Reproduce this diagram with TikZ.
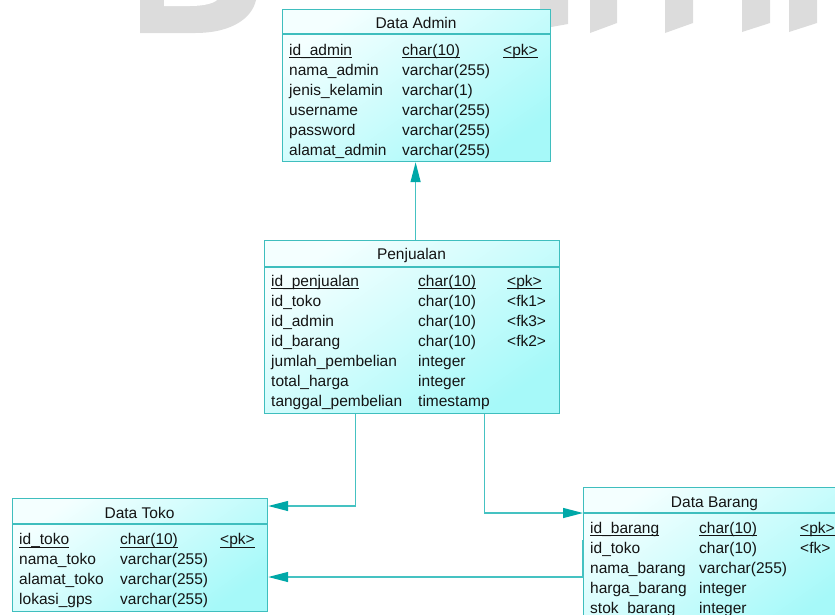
\documentclass[tikz,border=0pt]{standalone}
\usepackage{fontspec}
\setmainfont{Liberation Sans}
\usetikzlibrary{arrows.meta}
\definecolor{boxC}{HTML}{3FBEBE}
\definecolor{lineC}{HTML}{45C2C2}
\definecolor{arrC}{HTML}{00A8A8}
\definecolor{cTop}{HTML}{F4FFFF}
\definecolor{cBot}{HTML}{A6F9F9}
\definecolor{txtC}{HTML}{141414}
\definecolor{wmC}{HTML}{DCDCDC}
\newcommand{\fs}{\fontsize{15.5}{18}\selectfont}
\newcommand{\ulin}[1]{\setbox0=\hbox{#1}\rlap{\rule[-2.8pt]{\wd0}{1pt}}\box0}
\tikzset{
  tbl/.style={draw=boxC, line width=1.2pt, rectangle, inner sep=0pt, anchor=north west,
    top color=cTop, bottom color=cBot, shading angle=35},
  hdr/.style={draw=boxC, line width=1.2pt},
  fld/.style={anchor=base west, inner sep=0pt, text=txtC, font=\fs},
  ttl/.style={anchor=base, inner sep=0pt, text=txtC, font=\fs},
  rel/.style={draw=lineC, line width=1.3pt},
  arr/.style={-{Triangle[length=20pt,width=10pt,color=arrC]}},
  wm/.style={fill=wmC, draw=none}
}
\begin{document}
\begin{tikzpicture}[x=1pt, y=-1pt]
\useasboundingbox (0,0) rectangle (835,614);
% watermark
\fill[wm] (140,0) -- (140,33) -- (195,33) .. controls (232,33) and (252,18) .. (256,0) -- cycle;
\fill[white] (164,0) -- (164,6) -- (190,6) .. controls (205,6) and (214,3) .. (217,0) -- cycle;
\fill[wm] (540,0) -- (568,0) -- (568,24) -- (540,29) -- cycle;
\fill[wm] (590,0) -- (617,0) -- (617,23) -- (590,33) -- cycle;
\fill[wm] (665,0) -- (693,0) -- (693,23) -- (665,33) -- cycle;
\fill[wm] (742,0) -- (770,0) -- (770,23) -- (742,32) -- cycle;
\fill[wm] (789,0) -- (817,0) -- (817,23) -- (789,32) -- cycle;

% ---------- Data Admin ----------
\node[tbl, minimum width=268pt, minimum height=152pt] (admin) at (282,9) {};
\draw[hdr] ([yshift=-25pt]admin.north west) -- ([yshift=-25pt]admin.north east);
\node[ttl] (adminT) at (416,28) {Data Admin};
\node[fld] (a1n) at (289,55) {\ulin{id\_admin}};
\node[fld] (a1t) at (402,55) {\ulin{char(10)}};
\node[fld] (a1k) at (503,55) {\ulin{<pk>}};
\node[fld] (a2n) at (289,75) {nama\_admin};
\node[fld] (a2t) at (402,75) {varchar(255)};
\node[fld] (a3n) at (289,95) {jenis\_kelamin};
\node[fld] (a3t) at (402,95) {varchar(1)};
\node[fld] (a4n) at (289,115) {username};
\node[fld] (a4t) at (402,115) {varchar(255)};
\node[fld] (a5n) at (289,135) {password};
\node[fld] (a5t) at (402,135) {varchar(255)};
\node[fld] (a6n) at (289,155) {alamat\_admin};
\node[fld] (a6t) at (402,155) {varchar(255)};

% ---------- Penjualan ----------
\node[tbl, minimum width=295pt, minimum height=173pt] (pen) at (264,240) {};
\draw[hdr] ([yshift=-27pt]pen.north west) -- ([yshift=-27pt]pen.north east);
\node[ttl] (penT) at (411.5,259) {Penjualan};
\node[fld] (p1n) at (271,286.2) {\ulin{id\_penjualan}};
\node[fld] (p1t) at (418,286.2) {\ulin{char(10)}};
\node[fld] (p1k) at (507,286.2) {\ulin{<pk>}};
\node[fld] (p2n) at (271,306.2) {id\_toko};
\node[fld] (p2t) at (418,306.2) {char(10)};
\node[fld] (p2k) at (507,306.2) {<fk1>};
\node[fld] (p3n) at (271,326.2) {id\_admin};
\node[fld] (p3t) at (418,326.2) {char(10)};
\node[fld] (p3k) at (507,326.2) {<fk3>};
\node[fld] (p4n) at (271,346.2) {id\_barang};
\node[fld] (p4t) at (418,346.2) {char(10)};
\node[fld] (p4k) at (507,346.2) {<fk2>};
\node[fld] (p5n) at (271,366.2) {jumlah\_pembelian};
\node[fld] (p5t) at (418,366.2) {integer};
\node[fld] (p6n) at (271,386.2) {total\_harga};
\node[fld] (p6t) at (418,386.2) {integer};
\node[fld] (p7n) at (271,406.2) {tanggal\_pembelian};
\node[fld] (p7t) at (418,406.2) {timestamp};

% ---------- Data Toko ----------
\node[tbl, minimum width=255pt, minimum height=113pt] (toko) at (12,498) {};
\draw[hdr] ([yshift=-26pt]toko.north west) -- ([yshift=-26pt]toko.north east);
\node[ttl] (tokoT) at (139.5,518.5) {Data Toko};
\node[fld] (t1n) at (19,544.8) {\ulin{id\_toko}};
\node[fld] (t1t) at (120,544.8) {\ulin{char(10)}};
\node[fld] (t1k) at (220,544.8) {\ulin{<pk>}};
\node[fld] (t2n) at (19,564.8) {nama\_toko};
\node[fld] (t2t) at (120,564.8) {varchar(255)};
\node[fld] (t3n) at (19,584.8) {alamat\_toko};
\node[fld] (t3t) at (120,584.8) {varchar(255)};
\node[fld] (t4n) at (19,604.8) {lokasi\_gps};
\node[fld] (t4t) at (120,604.8) {varchar(255)};

% ---------- Data Barang ----------
\node[tbl, minimum width=263pt, minimum height=140pt] (barang) at (583,487) {};
\draw[hdr] ([yshift=-26pt]barang.north west) -- ([yshift=-26pt]barang.north east);
\node[ttl] (barangT) at (714.5,507.5) {Data Barang};
\node[fld] (b1n) at (590,533.5) {\ulin{id\_barang}};
\node[fld] (b1t) at (699,533.5) {\ulin{char(10)}};
\node[fld] (b1k) at (800,533.5) {\ulin{<pk>}};
\node[fld] (b2n) at (590,553.5) {id\_toko};
\node[fld] (b2t) at (699,553.5) {char(10)};
\node[fld] (b2k) at (800,553.5) {<fk>};
\node[fld] (b3n) at (590,573.5) {nama\_barang};
\node[fld] (b3t) at (699,573.5) {varchar(255)};
\node[fld] (b4n) at (590,593.5) {harga\_barang};
\node[fld] (b4t) at (699,593.5) {integer};
\node[fld] (b5n) at (590,613.5) {stok\_barang};
\node[fld] (b5t) at (699,613.5) {integer};

% ---------- connectors ----------
\draw[rel, arr] ([xshift=-1pt]pen.north -| admin.south) -- ([xshift=-1pt]admin.south);
\draw[rel, arr] ([xshift=-56.5pt]pen.south) |- ([yshift=-8pt]toko.north east);
\draw[rel, arr] ([xshift=72.5pt]pen.south) |- ([yshift=-26pt]barang.north west);
\coordinate (bk) at ([yshift=-90pt]barang.north west);
\draw[rel, arr] ([yshift=-53pt]barang.north west) -- (bk) -- (bk -| toko.east);
\end{tikzpicture}
\end{document}
